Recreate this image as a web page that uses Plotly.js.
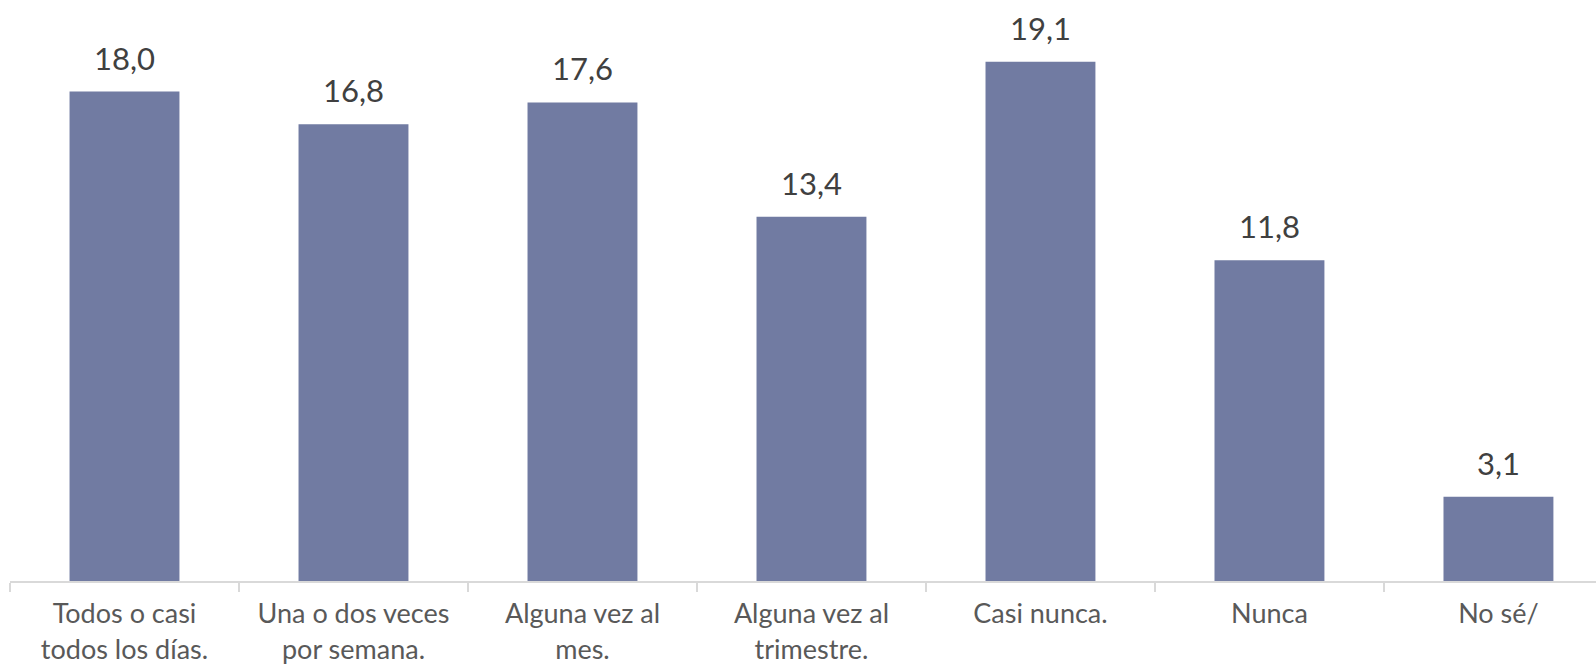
<!DOCTYPE html>
<html>
<head>
<meta charset="utf-8">
<script src="https://cdn.plot.ly/plotly-3.0.1.min.js"></script>
<style>
html,body{margin:0;padding:0;background:#fff;overflow:hidden;}
#chart{width:1596px;height:667px;}
</style>
</head>
<body>
<div id="chart"></div>
<script>
const categories = [
  "Todos o casi<br>todos los días.",
  "Una o dos veces<br>por semana.",
  "Alguna vez al<br>mes.",
  "Alguna vez al<br>trimestre.",
  "Casi nunca.",
  "Nunca",
  "No sé/"
];
const values = [18.0, 16.8, 17.6, 13.4, 19.1, 11.8, 3.1];
const valueLabels = ["18,0", "16,8", "17,6", "13,4", "19,1", "11,8", "3,1"];

const trace = {
  type: 'bar',
  x: categories,
  y: values,
  marker: {color: '#717ba2'},
  hoverinfo: 'skip'
};

const annotations = categories.map((c, i) => ({
  x: c,
  y: values[i],
  xref: 'x',
  yref: 'y',
  text: valueLabels[i],
  showarrow: false,
  yanchor: 'bottom',
  yshift: 13,
  font: {family: 'Lato, "Open Sans", sans-serif', size: 31, color: '#404040'}
}));

const layout = {
  width: 1596,
  height: 667,
  margin: {l: 10, r: 0, t: 10, b: 86},
  paper_bgcolor: '#ffffff',
  plot_bgcolor: '#ffffff',
  separators: ',.',
  bargap: 0.52,
  showlegend: false,
  annotations: annotations,
  xaxis: {
    type: 'category',
    range: [-0.5, 6.426],
    showline: true,
    linecolor: '#d9d9d9',
    linewidth: 2,
    ticks: 'outside',
    tickson: 'boundaries',
    ticklen: 9,
    tickcolor: '#d9d9d9',
    tickwidth: 2,
    ticklabelstandoff: 8,
    showgrid: false,
    zeroline: false,
    tickfont: {family: 'Lato, "Open Sans", sans-serif', size: 27, color: '#595959'},
    fixedrange: true
  },
  yaxis: {
    range: [0, 21],
    visible: false,
    showgrid: false,
    zeroline: false,
    fixedrange: true
  }
};

Plotly.newPlot('chart', [trace], layout, {staticPlot: true, displayModeBar: false});
</script>
</body>
</html>
